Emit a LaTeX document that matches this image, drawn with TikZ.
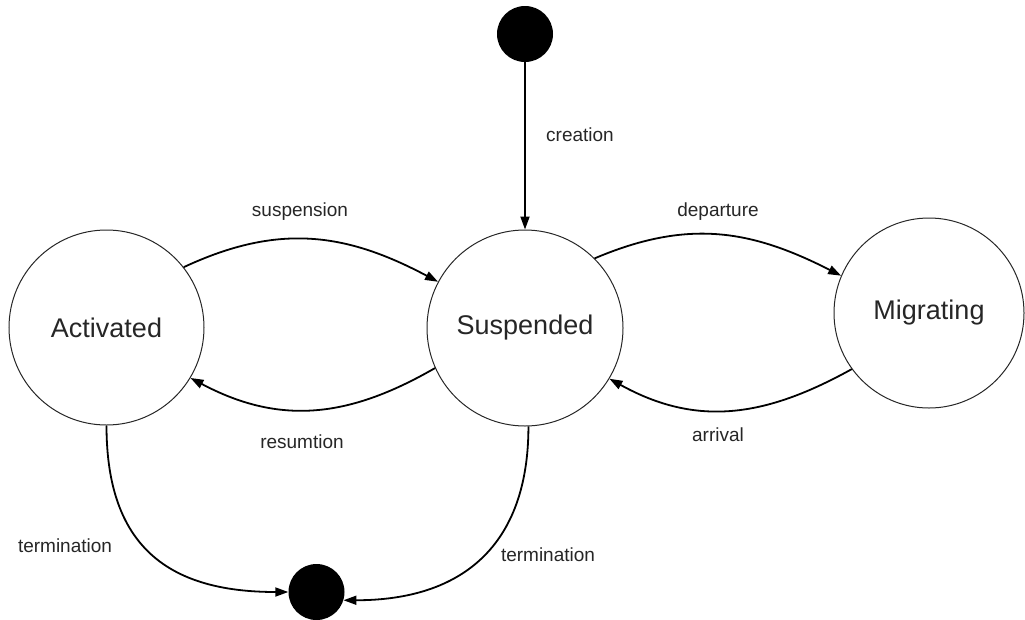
\documentclass[tikz,border=0pt]{standalone}
\usepackage{fontspec}
\setmainfont{Liberation Sans}
\usetikzlibrary{arrows.meta}
\begin{document}
\begin{tikzpicture}[x=1pt,y=1pt,
  state/.style={circle,draw=black!85,line width=1pt,inner sep=0pt,text=black!85,
    font=\fontsize{27}{32}\selectfont},
  dot/.style={circle,fill=black,inner sep=0pt,minimum size=56pt},
  lbl/.style={text=black!85,font=\fontsize{19}{23}\selectfont,inner sep=0pt},
  conn/.style={line width=1.8pt,-{Triangle[length=13pt,width=9pt]}}]
\useasboundingbox (0,0) rectangle (1025,-619);
\node[state,minimum size=195pt] (A) at (106.5,-327.5) {Activated};
\node[state,minimum size=196pt] (S) at (525,-328) {Suspended};
\node[state,minimum size=190pt] (M) at (929,-313) {Migrating};
\node[dot] (I) at (525,-34) {};
\node[dot] (F) at (316.5,-592) {};
\draw[conn] (I.south) -- (S.north);
\draw[conn] (A.38) to[out=25,in=152,looseness=1.05] (S.152);
\draw[conn] (S.204) to[out=210,in=-28,looseness=1.05] (A.-31);
\draw[conn] (S.45) to[out=23,in=153,looseness=1.05] (M.157);
\draw[conn] (M.216) to[out=209,in=-29,looseness=1.05] (S.-31);
\draw[conn] (A.south) to[out=-90,in=180,looseness=1.25] (F.west);
\draw[conn] (S.-88) to[out=-90,in=0,looseness=1.2] (F.-17);
\node[lbl] (lc) at (580,-135) {creation};
\node[lbl] (ls) at (300,-212) {suspension};
\node[lbl] (lr) at (302,-442) {resumtion};
\node[lbl] (ld) at (718,-212) {departure};
\node[lbl] (la) at (718,-435) {arrival};
\node[lbl] (lt1) at (65,-546) {termination};
\node[lbl] (lt2) at (548,-555) {termination};
\end{tikzpicture}
\end{document}
